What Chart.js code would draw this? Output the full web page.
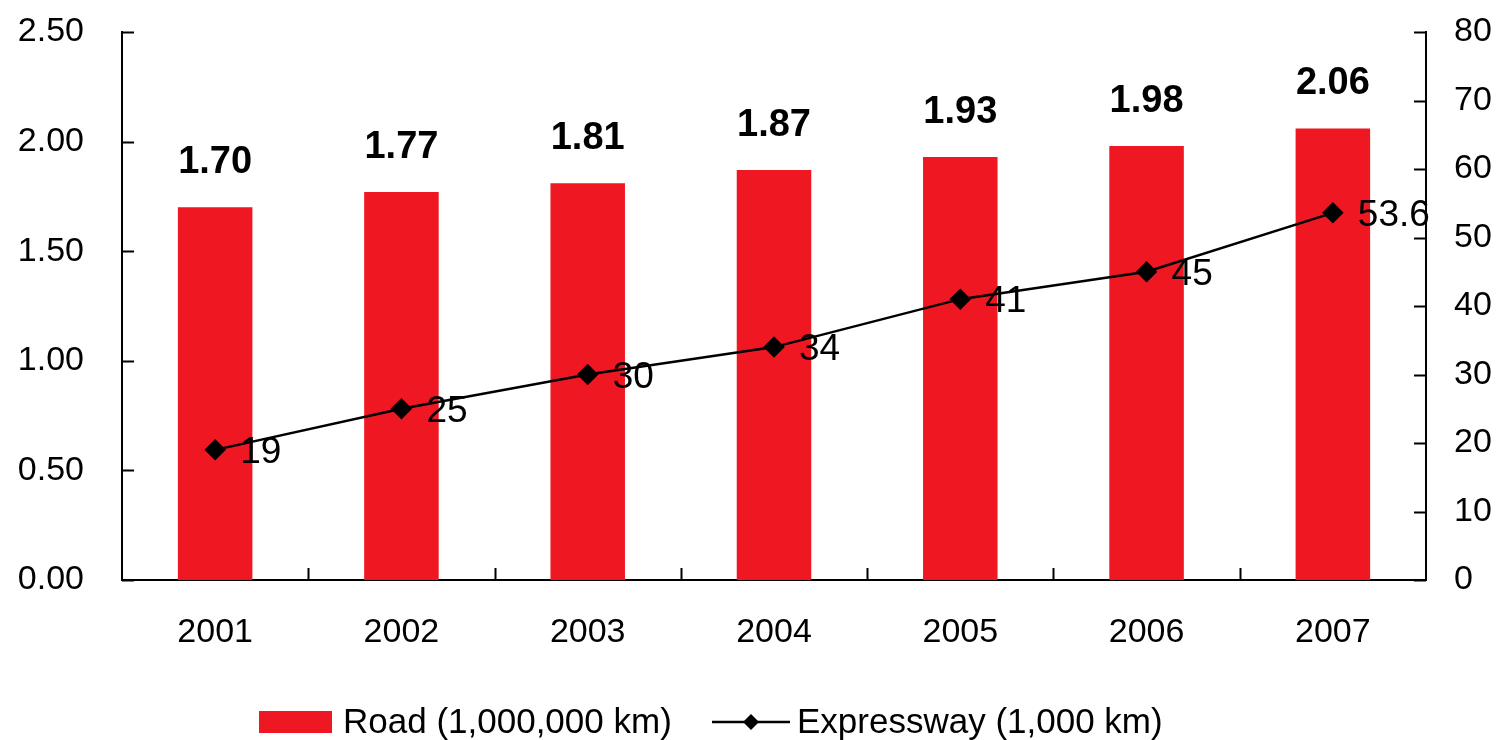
<!DOCTYPE html>
<html>
<head>
<meta charset="utf-8">
<script src="https://cdn.jsdelivr.net/npm/chart.js@4/dist/chart.umd.min.js"></script>
<style>
  html, body { margin: 0; padding: 0; background: #fff; }
  #wrap { width: 1497px; height: 740px; }
</style>
</head>
<body>
<div id="wrap"><canvas id="myChart" width="1497" height="740"></canvas></div>
<script>
var years = ['2001', '2002', '2003', '2004', '2005', '2006', '2007'];
var roadValues = [1.70, 1.77, 1.81, 1.87, 1.93, 1.98, 2.06];
var expresswayValues = [19, 25, 30, 34, 41, 45, 53.6];
var roadLabels = ['1.70', '1.77', '1.81', '1.87', '1.93', '1.98', '2.06'];
var expresswayLabels = ['19', '25', '30', '34', '41', '45', '53.6'];

var RED = '#EF1722';
var FONT = '"Liberation Sans", Arial, sans-serif';

// inward tick marks, value labels and the legend
var extras = {
    id: 'extras',
    afterDraw: function (chart) {
        var ctx = chart.ctx;
        var area = chart.chartArea;
        var sx = chart.scales.x, yl = chart.scales.y, yr = chart.scales.y1;
        var road = chart.data.datasets[0], expr = chart.data.datasets[1];
        ctx.save();
        ctx.strokeStyle = '#000';
        ctx.lineWidth = 2;
        ctx.beginPath();
        yl.ticks.forEach(function (t) {
            var py = Math.round(yl.getPixelForValue(t.value)) + 0.5;
            ctx.moveTo(area.left, py); ctx.lineTo(area.left + 12, py);
        });
        yr.ticks.forEach(function (t) {
            var py = Math.round(yr.getPixelForValue(t.value)) + 0.5;
            ctx.moveTo(area.right, py); ctx.lineTo(area.right - 12, py);
        });
        for (var i = 1; i < years.length; i++) {
            var px = Math.round((sx.getPixelForValue(i - 1) + sx.getPixelForValue(i)) / 2) + 0.5;
            ctx.moveTo(px, area.bottom); ctx.lineTo(px, area.bottom - 12);
        }
        ctx.stroke();

        // bar labels
        ctx.fillStyle = '#000';
        ctx.font = 'bold 38px ' + FONT;
        ctx.textAlign = 'center';
        ctx.textBaseline = 'alphabetic';
        chart.getDatasetMeta(0).data.forEach(function (el, i) {
            ctx.fillText(roadLabels[i], el.x, el.y - 34);
        });

        // line labels
        ctx.font = '37px ' + FONT;
        ctx.textAlign = 'left';
        ctx.textBaseline = 'middle';
        chart.getDatasetMeta(1).data.forEach(function (el, i) {
            ctx.fillText(expresswayLabels[i], el.x + 25, el.y + 3);
        });

        // legend
        var ly = 722;
        ctx.font = '35px ' + FONT;
        ctx.fillStyle = RED;
        ctx.fillRect(259, ly - 11, 73, 22);
        ctx.fillStyle = '#000';
        ctx.fillText(road.label, 343, ly + 1);
        ctx.beginPath();
        ctx.lineWidth = 2.5;
        ctx.moveTo(712, ly); ctx.lineTo(790, ly);
        ctx.stroke();
        ctx.beginPath();
        ctx.moveTo(751, ly - 8); ctx.lineTo(759, ly); ctx.lineTo(751, ly + 8); ctx.lineTo(743, ly);
        ctx.closePath();
        ctx.fill();
        ctx.fillText(expr.label, 797, ly + 1);
        ctx.restore();
    }
};

function fitY(w) {
    return function (s) {
        s.width = w;
        s.paddingTop = 0;
        s.paddingBottom = 0;
    };
}

var ctx = document.getElementById('myChart').getContext('2d');
var myChart = new Chart(ctx, {
    data: {
        labels: years,
        datasets: [{
            type: 'bar',
            label: 'Road (1,000,000 km)',
            data: roadValues,
            yAxisID: 'y',
            backgroundColor: RED,
            barPercentage: 0.4,
            categoryPercentage: 1,
            order: 1
        }, {
            type: 'line',
            label: 'Expressway (1,000 km)',
            data: expresswayValues,
            yAxisID: 'y1',
            borderColor: '#000',
            backgroundColor: '#000',
            borderWidth: 2.5,
            pointStyle: 'rectRot',
            pointRadius: 9,
            pointHoverRadius: 9,
            tension: 0,
            order: 0
        }]
    },
    options: {
        responsive: false,
        animation: false,
        layout: { padding: { top: 32, left: 0, right: 0, bottom: 0 } },
        plugins: {
            legend: { display: false },
            tooltip: { enabled: false }
        },
        scales: {
            x: {
                offset: true,
                grid: { display: false, offset: true },
                border: { display: true, color: '#000', width: 2 },
                ticks: { color: '#000', font: { family: FONT, size: 34 }, padding: 24, maxRotation: 0 },
                afterFit: function (s) { s.height = 160; }
            },
            y: {
                position: 'left',
                min: 0, max: 2.5,
                grid: { display: false },
                border: { display: true, color: '#000', width: 2 },
                ticks: {
                    stepSize: 0.5, color: '#000', padding: 30,
                    font: { family: FONT, size: 34 },
                    callback: function (v) { return v.toFixed(2); }
                },
                afterFit: fitY(122)
            },
            y1: {
                position: 'right',
                min: 0, max: 80,
                grid: { display: false },
                border: { display: true, color: '#000', width: 2 },
                ticks: { stepSize: 10, color: '#000', padding: 20, font: { family: FONT, size: 34 } },
                afterFit: fitY(71)
            }
        }
    },
    plugins: [extras]
});
</script>
</body>
</html>
